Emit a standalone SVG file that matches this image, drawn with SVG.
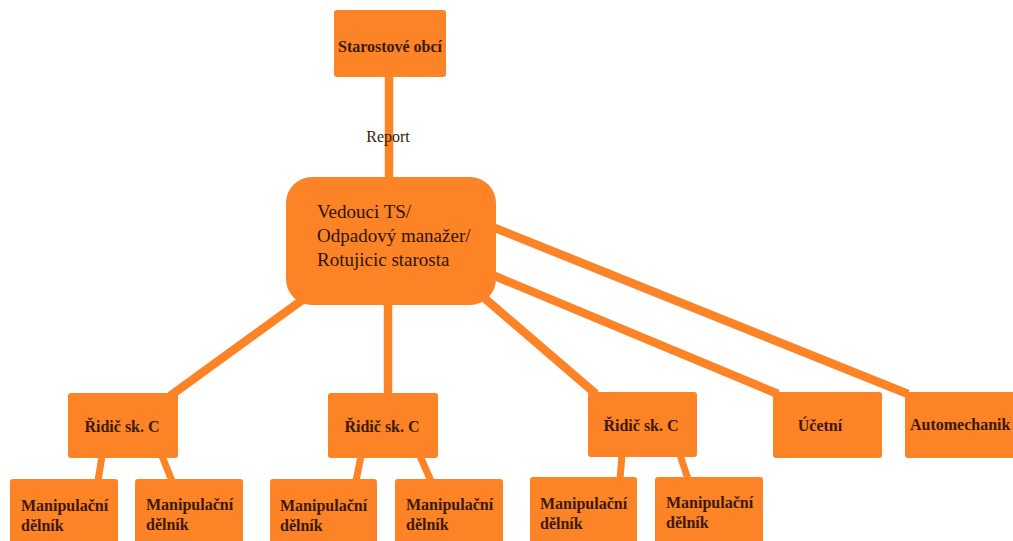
<svg xmlns="http://www.w3.org/2000/svg" width="1013" height="541" viewBox="0 0 1013 541">
<style>
.box{fill:#fd8327;}
.ln{stroke:#fd8327;stroke-width:8.5;stroke-linecap:butt;fill:none;}
.sl{stroke:#fd8327;stroke-width:7;fill:none;}
.t{font-family:"Liberation Serif","DejaVu Serif",serif;fill:#3b1a05;}
.b{font-weight:bold;font-size:16px;}
.m{font-size:19px;fill:#2b1407;}
</style>
<rect width="1013" height="541" fill="#ffffff"/>
<g id="connectors">
<line class="ln" x1="389" y1="76" x2="389" y2="182"/>
<line class="ln" x1="305" y1="298" x2="170" y2="396"/>
<line class="ln" x1="388" y1="302" x2="388" y2="394"/>
<line class="ln" x1="482" y1="296" x2="596" y2="394"/>
<line class="ln" x1="490" y1="274" x2="778" y2="394"/>
<line class="ln" x1="490" y1="226" x2="908" y2="394"/>
<line class="sl" x1="102" y1="456" x2="98" y2="481"/>
<line class="sl" x1="162" y1="456" x2="172" y2="481"/>
<line class="sl" x1="361" y1="456" x2="356" y2="481"/>
<line class="sl" x1="420" y1="456" x2="431" y2="481"/>
<line class="sl" x1="622" y1="455" x2="620" y2="479"/>
<line class="sl" x1="680" y1="455" x2="688" y2="479"/>
<text class="t" x="388" y="142" font-size="16" text-anchor="middle" fill="#333333">Report</text>
</g>
<g id="n-starostove">
<rect class="box" x="334" y="10" width="112" height="67" rx="3"/>
<text class="t" x="390" y="52" font-size="16" font-weight="bold" text-anchor="middle" textLength="104" lengthAdjust="spacingAndGlyphs">Starostové obcí</text>
</g>
<g id="n-vedouci">
<rect class="box" x="286" y="177" width="210" height="128" rx="26"/>
<text class="t m" x="317" y="218">Vedouci TS/</text>
<text class="t m" x="317" y="242">Odpadový manažer/</text>
<text class="t m" x="317" y="266">Rotujicic starosta</text>
</g>
<g id="n-ridic1">
<rect class="box" x="68" y="393" width="110" height="65" rx="3"/>
<text class="t b" x="122" y="432" text-anchor="middle">Řidič sk. C</text>
</g>
<g id="n-ridic2">
<rect class="box" x="328" y="393" width="110" height="65" rx="3"/>
<text class="t b" x="382" y="432" text-anchor="middle">Řidič sk. C</text>
</g>
<g id="n-ridic3">
<rect class="box" x="588" y="392" width="109" height="65" rx="3"/>
<text class="t b" x="641" y="431" text-anchor="middle">Řidič sk. C</text>
</g>
<g id="n-ucetni">
<rect class="box" x="773" y="392" width="109" height="66" rx="3"/>
<text class="t b" x="820" y="431" text-anchor="middle">Účetní</text>
</g>
<g id="n-automechanik">
<rect class="box" x="905" y="392" width="115" height="66" rx="3"/>
<text class="t b" x="910" y="430">Automechanik</text>
</g>
<g id="n-manip1a">
<rect class="box" x="10" y="479" width="108" height="70" rx="3"/>
<text class="t b" x="21" y="511">Manipulační</text>
<text class="t b" x="21" y="531">dělník</text>
</g>
<g id="n-manip1b">
<rect class="box" x="135" y="479" width="108" height="70" rx="3"/>
<text class="t b" x="146" y="510">Manipulační</text>
<text class="t b" x="146" y="530">dělník</text>
</g>
<g id="n-manip2a">
<rect class="box" x="270" y="479" width="107" height="70" rx="3"/>
<text class="t b" x="280" y="511">Manipulační</text>
<text class="t b" x="280" y="531">dělník</text>
</g>
<g id="n-manip2b">
<rect class="box" x="395" y="479" width="108" height="70" rx="3"/>
<text class="t b" x="406" y="510">Manipulační</text>
<text class="t b" x="406" y="530">dělník</text>
</g>
<g id="n-manip3a">
<rect class="box" x="530" y="477" width="107" height="70" rx="3"/>
<text class="t b" x="540" y="509">Manipulační</text>
<text class="t b" x="540" y="529">dělník</text>
</g>
<g id="n-manip3b">
<rect class="box" x="655" y="477" width="108" height="70" rx="3"/>
<text class="t b" x="666" y="508">Manipulační</text>
<text class="t b" x="666" y="528">dělník</text>
</g>
</svg>
